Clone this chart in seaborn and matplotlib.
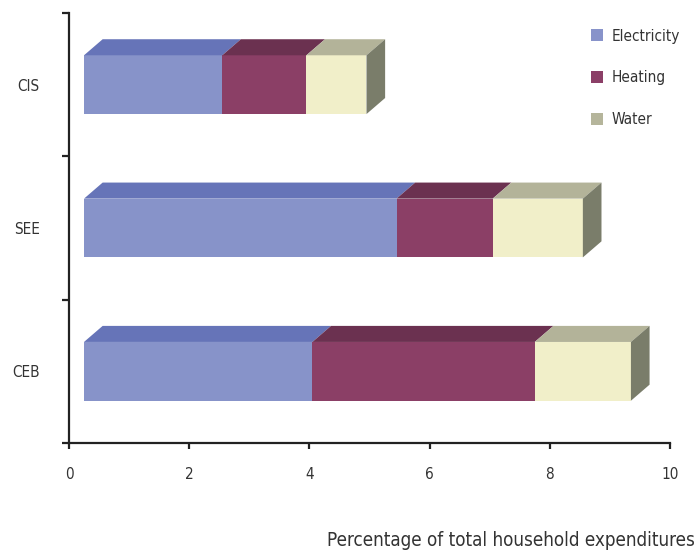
import pandas as pd
import matplotlib.pyplot as plt
import seaborn as sns
from matplotlib.patches import Polygon, Patch

# data (front-face widths)
regions = ["CIS", "SEE", "CEB"]
electricity = [2.3, 5.2, 3.8]
heating = [1.4, 1.6, 3.7]
water = [1.0, 1.5, 1.6]
xticks = [0, 2, 4, 6, 8, 10]

df = pd.DataFrame({"Region": regions, "Electricity": electricity,
                   "Heating": heating, "Water": water})
df["heat_end"] = df["Electricity"] + df["Heating"]
df["total"] = df["heat_end"] + df["Water"]

front = {"Electricity": "#8793C9", "Heating": "#8B3F66", "Water": "#F1EFC9"}
top = {"Electricity": "#6674B8", "Heating": "#6B3150", "Water": "#B3B399"}
side = "#7A7D6A"
legend_colors = {"Electricity": "#8893CA", "Heating": "#8B3F67", "Water": "#B5B59B"}

sns.set_style("white")
plt.rcParams["font.family"] = ["DejaVu Sans"]
plt.rcParams["font.stretch"] = "condensed"
text_color = "#333333"

fig, ax = plt.subplots(figsize=(6.97, 5.52), dpi=100)
fig.subplots_adjust(left=69 / 697, right=670 / 697, bottom=109 / 552, top=539 / 552)

bar_h = 0.41
for col, c in [("total", front["Water"]), ("heat_end", front["Heating"]),
               ("Electricity", front["Electricity"])]:
    sns.barplot(data=df, x=col, y="Region", order=regions, orient="h",
                color=c, saturation=1, width=bar_h, linewidth=0, ax=ax)

# front plane sits a bit in front of the axis plane
x_off = 0.25
for p in ax.patches:
    p.set_x(p.get_x() + x_off)

# depth of the 3D boxes (in data units)
dx, dy = 0.31, 0.112
for i, row in df.iterrows():
    y_top = i - bar_h / 2
    y_bot = i + bar_h / 2
    edges = [0, row["Electricity"], row["heat_end"], row["total"]]
    for k, name in enumerate(["Electricity", "Heating", "Water"]):
        x0 = edges[k] + x_off
        x1 = edges[k + 1] + x_off
        ax.add_patch(Polygon([(x0, y_top), (x1, y_top), (x1 + dx, y_top - dy),
                              (x0 + dx, y_top - dy)], closed=True,
                             facecolor=top[name], linewidth=0))
    xe = row["total"] + x_off
    ax.add_patch(Polygon([(xe, y_top), (xe + dx, y_top - dy), (xe + dx, y_bot - dy),
                          (xe, y_bot)], closed=True, facecolor=side, linewidth=0))

ax.set_xlim(0, 10)
ax.set_ylim(2.5, -0.5)
ax.set_xticks(xticks)
ax.set_xticklabels([str(t) for t in xticks])

# category boundaries get tick marks, labels sit between them
ax.set_yticks([-0.5, 0.5, 1.5, 2.5])
ax.set_yticklabels([])
ax.set_yticks(range(len(regions)), minor=True)
ax.set_yticklabels(regions, minor=True)
ax.tick_params(axis="y", which="major", left=True, length=5, width=1.6,
               color="#222222", direction="out")
ax.tick_params(axis="y", which="minor", left=True, length=0, pad=21,
               labelsize=11, labelcolor=text_color)
ax.tick_params(axis="x", bottom=True, length=4, width=1.6, color="#222222",
               direction="out", pad=13, labelsize=11, labelcolor=text_color)

for s in ["top", "right"]:
    ax.spines[s].set_visible(False)
for s in ["left", "bottom"]:
    ax.spines[s].set_linewidth(1.6)
    ax.spines[s].set_color("#222222")

ax.set_xlabel("")
ax.set_ylabel("")
fig.text(695 / 697, (552 - 540) / 552, "Percentage of total household expenditures",
         ha="right", va="center", fontsize=13.5, color=text_color)

handles = [Patch(facecolor=legend_colors[n], linewidth=0) for n in ["Electricity", "Heating", "Water"]]
ax.legend(handles, ["Electricity", "Heating", "Water"], loc="upper left",
          bbox_to_anchor=(583 / 697, (552 - 21) / 552), bbox_transform=fig.transFigure,
          frameon=False, fontsize=11, handlelength=0.8, handleheight=0.8,
          handletextpad=0.6, labelspacing=1.75, borderpad=0, labelcolor=text_color)

plt.savefig("out.png", dpi=100)
